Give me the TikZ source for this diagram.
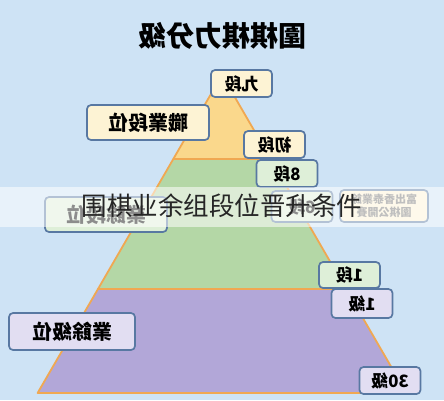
\documentclass[tikz,border=0pt]{standalone}
\usepackage{fontspec}
\newfontfamily\cjk{Noto Sans CJK TC}
\newfontfamily\cjksc{Noto Sans CJK SC}
\usepackage{tikz}
\usetikzlibrary{positioning}
\usepackage{xcolor}
\definecolor{bgblue}{RGB}{206, 227, 245}
\definecolor{tierYellow}{RGB}{250, 216, 140}
\definecolor{tierGreen}{RGB}{180, 215, 166}
\definecolor{tierPurple}{RGB}{178, 167, 216}
\definecolor{edgeOrange}{RGB}{240, 168, 82}
\definecolor{boxline}{RGB}{88, 120, 162}
\definecolor{paleYellow}{RGB}{253, 243, 212}
\definecolor{paleGreen}{RGB}{222, 239, 216}
\definecolor{palePurple}{RGB}{226, 222, 242}

\begin{document}
\begin{tikzpicture}[x=1pt, y=-1pt,
  rankbox/.style={draw=boxline, line width=1.7pt, rounded corners=4pt,
    inner sep=0pt, minimum width=61pt, minimum height=27pt,
    font=\cjk\bfseries\fontsize{17}{17}\selectfont, xscale=-1},
  widebox/.style={rankbox, minimum width=122pt, minimum height=35pt,
    font=\cjk\bfseries\fontsize{20}{20}\selectfont},
  tier/.style={draw=edgeOrange, line width=1.8pt, line join=round}]
  % Background
  \fill[bgblue] (0,0) rectangle (444,400);
  \useasboundingbox (0,0) rectangle (444,400);
  % Title
  \node[xscale=-1, font=\cjk\bfseries\fontsize{28}{28}\selectfont] (title) at (222,36) {圍棋棋力分級};
  % Pyramid tiers
  \filldraw[tier, fill=tierPurple] (98,289) -- (37.6,393) -- (406.4,393) -- (346,289) -- cycle;
  \filldraw[tier, fill=tierGreen] (173.3,159) -- (98,289) -- (346,289) -- (270.7,159) -- cycle;
  \filldraw[tier, fill=tierYellow] (222,75) -- (173.3,159) -- (270.7,159) -- cycle;
  % Rank boxes
  \node[rankbox, fill=paleYellow] (nineDan) at (241.5,83.5) {九段};
  \node[widebox, fill=paleYellow] (pro) at (148,122.5) {職業段位};
  \node[rankbox, fill=paleYellow] (firstDan) at (274.5,144.5) {初段};
  \node[rankbox, fill=paleGreen] (eightDan) at (287,173.5) {8段};
  \node[widebox, fill=paleGreen] (amDan) at (106,214.5) {業餘段位};
  \node[rankbox, fill=paleGreen, minimum height=31pt] (sixDan) at (302,206.5) {6段};
  \node[rankbox, fill=paleYellow, minimum width=88pt, minimum height=32pt,
    text=black!55, font=\cjk\bfseries\fontsize{11}{13}\selectfont, align=center] (note) at (384,206) {富出香泰業餘\\圍棋公開賽};
  \node[rankbox, fill=paleGreen, minimum height=26pt] (oneDan) at (349.5,275) {1段};
  \node[rankbox, fill=palePurple, minimum height=29pt] (oneKyu) at (362,303.5) {1級};
  \node[widebox, fill=palePurple, minimum width=126pt, minimum height=37pt] (amKyu) at (72,331.5) {業餘級位};
  \node[rankbox, fill=palePurple] (thirtyKyu) at (390,380.5) {30級};
  % Caption band
  \fill[white, opacity=0.55] (0,187) rectangle (444,227);
  \node[font=\cjksc\fontsize{25.5}{25.5}\selectfont, text=black!85] (caption) at (222,206) {围棋业余组段位晋升条件};
\end{tikzpicture}
\end{document}
